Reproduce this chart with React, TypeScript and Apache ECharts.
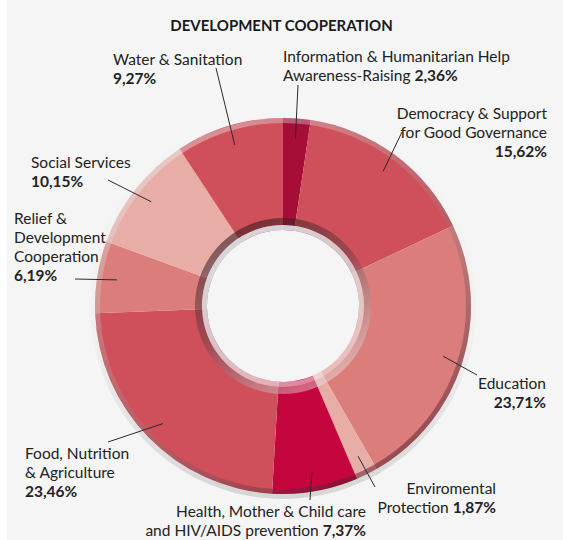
import React, { useEffect, useRef } from "react";
import * as echarts from "echarts";

// ---- data ----
const categories = [
  "Information & Humanitarian Help Awareness-Raising",
  "Democracy & Support for Good Governance",
  "Education",
  "Enviromental Protection",
  "Health, Mother & Child care and HIV/AIDS prevention",
  "Food, Nutrition & Agriculture",
  "Relief & Development Cooperation",
  "Social Services",
  "Water & Sanitation",
];
const shares = [2.36, 15.62, 23.71, 1.87, 7.37, 23.46, 6.19, 10.15, 9.27];
// label text lines; %v marks where the percentage goes
const labelTexts = [
  ["Information & Humanitarian Help", "Awareness-Raising %v"],
  ["Democracy & Support", "for Good Governance", "%v"],
  ["Education", "%v"],
  ["Enviromental", "Protection %v"],
  ["Health, Mother & Child care", "and HIV/AIDS prevention %v"],
  ["Food, Nutrition", "& Agriculture", "%v"],
  ["Relief &", "Development", "Cooperation", "%v"],
  ["Social Services", "%v"],
  ["Water & Sanitation", "%v"],
];
const title = "DEVELOPMENT COOPERATION";

// ---- styles / layout ----
const colors = [
  "#a60d37",
  "#cf4f5a",
  "#db7e7b",
  "#e8ada7",
  "#c5063e",
  "#cf4f5a",
  "#db7e7b",
  "#e8ada7",
  "#cf4f5a",
];
const placement = [
  { x: 283, y: 46.5, align: "left", lx: 298, ly: 85 },
  { x: 547, y: 103.5, align: "right", lx: 402, ly: 132 },
  { x: 546, y: 373.5, align: "right", lx: 477, ly: 375 },
  { x: 496, y: 478.5, align: "right", lx: 375, ly: 487 },
  { x: 366, y: 501.5, align: "right", lx: 310, ly: 500 },
  { x: 25, y: 443.5, align: "left", lx: 108, ly: 442 },
  { x: 14, y: 208.5, align: "left", lx: 75, ly: 279 },
  { x: 31, y: 152.5, align: "left", lx: 108, ly: 180 },
  { x: 113, y: 49.5, align: "left", lx: 216, ly: 68 },
];
const CX = 283;
const CY = 306;
const R_IN = 76;
const R_OUT = 188;
const LINE_R = 168;
const FONT = "Lato, 'Noto Sans', sans-serif";
const FS = 15.5;
const LH = 19;

const fmt = (v: number) => v.toFixed(2).replace(".", ",") + "%";

export default function App() {
  const ref = useRef<HTMLDivElement>(null);
  useEffect(() => {
    if (!ref.current) return;
    const chart = echarts.init(ref.current, undefined, { renderer: "svg" });
    const total = shares.reduce((a, b) => a + b, 0);
    const cum: number[] = [];
    shares.reduce((acc, v, i) => {
      cum[i] = acc;
      return acc + v;
    }, 0);

    // leader lines: inner end sits at the slice's mid angle
    const leaderLines = shares.map((v, i) => {
      const p = placement[i];
      const mid = ((cum[i] + v / 2) / total) * Math.PI * 2;
      const sx = CX + LINE_R * Math.sin(mid);
      const sy = CY - LINE_R * Math.cos(mid);
      return {
        type: "line",
        silent: true,
        z: 100,
        shape: { x1: p.lx, y1: p.ly, x2: sx, y2: sy },
        style: { stroke: "#2a2a2a", lineWidth: 1 },
      };
    });

    const ringOverlay = (radius: [number, number], color: any): any => ({
      type: "pie",
      silent: true,
      center: [CX, CY],
      radius,
      startAngle: 90,
      label: { show: false },
      labelLine: { show: false },
      tooltip: { show: false },
      itemStyle: { color, borderWidth: 0 },
      emphasis: { disabled: true },
      data: [{ value: 1, name: "" }],
    });

    const lg = (
      x: number,
      y: number,
      x2: number,
      y2: number,
      stops: [number, string][]
    ) =>
      new echarts.graphic.LinearGradient(
        x,
        y,
        x2,
        y2,
        stops.map(([offset, color]) => ({ offset, color }))
      );

    chart.setOption({
      animation: false,
      backgroundColor: "#ffffff",
      title: {
        text: title,
        left: "center",
        top: 12,
        textStyle: {
          fontFamily: FONT,
          fontWeight: "bold",
          fontSize: 15,
          color: "#1a1a1a",
        },
      },
      graphic: [
        {
          type: "rect",
          z: -10,
          silent: true,
          shape: { x: 7, y: 0, width: 556, height: 540 },
          style: { fill: "#f5f5f5" },
        },
        ...leaderLines,
      ],
      series: [
        ringOverlay(
          [R_OUT, R_OUT + 5],
          lg(0, 0, 0, 1, [
            [0, "rgba(0,0,0,0)"],
            [0.6, "rgba(0,0,0,0.02)"],
            [1, "rgba(0,0,0,0.13)"],
          ])
        ),
        {
          type: "pie",
          center: [CX, CY],
          radius: [R_IN, R_OUT],
          startAngle: 90,
          clockwise: true,
          avoidLabelOverlap: false,
          silent: true,
          itemStyle: { borderWidth: 0 },
          label: {
            show: true,
            position: "outside",
            overflow: "none",
            color: "#222",
            fontFamily: FONT,
            fontSize: FS,
            lineHeight: LH,
            formatter: (p: any) => {
              const i = p.dataIndex;
              return labelTexts[i]
                .map((l) => l.replace("%v", "{b|" + fmt(shares[i]) + "}"))
                .join("\n");
            },
            rich: {
              b: {
                fontFamily: FONT,
                fontWeight: "bold",
                fontSize: FS,
                lineHeight: LH,
                color: "#222",
              },
            },
          },
          labelLine: { show: false },
          labelLayout: (params: any) => {
            const p = placement[params.dataIndex];
            return { x: p.x, y: p.y, align: p.align, verticalAlign: "top" };
          },
          data: categories.map((name, i) => ({
            name,
            value: shares[i],
            itemStyle: { color: colors[i] },
          })),
        },
        ringOverlay(
          [R_OUT - 5, R_OUT],
          lg(0.15, 0, 0.85, 1, [
            [0, "rgba(255,255,255,0.45)"],
            [0.5, "rgba(150,140,140,0.3)"],
            [1, "rgba(70,0,20,0.55)"],
          ])
        ),
        ringOverlay(
          [R_IN + 5, R_IN + 12],
          lg(0.2, 0, 0.8, 1, [
            [0, "rgba(45,15,20,0.6)"],
            [0.45, "rgba(90,60,65,0.4)"],
            [1, "rgba(255,255,255,0.45)"],
          ])
        ),
        ringOverlay(
          [R_IN, R_IN + 5],
          lg(0.2, 0, 0.8, 1, [
            [0, "rgba(214,215,218,1)"],
            [0.5, "rgba(215,215,218,0.85)"],
            [1, "rgba(255,255,255,0.45)"],
          ])
        ),
      ],
    });
    return () => chart.dispose();
  }, []);
  return (
    <div
      ref={ref}
      style={{ position: "fixed", left: 0, top: 0, width: 563, height: 540 }}
    />
  );
}
